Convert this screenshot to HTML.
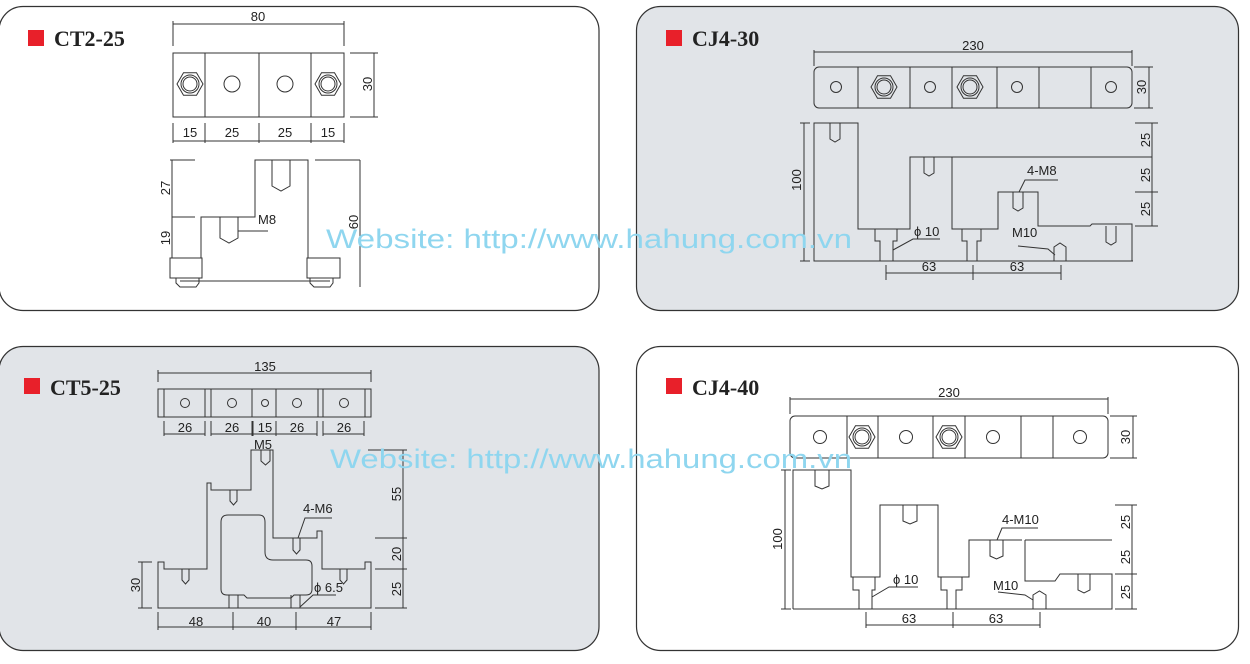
<!DOCTYPE html>
<html><head><meta charset="utf-8"><style>
html,body{margin:0;padding:0;background:#fff;width:1250px;height:664px;overflow:hidden}
svg{display:block}
.d{fill:none;stroke:#333;stroke-width:1}
.t{font-family:"Liberation Sans",sans-serif;font-size:13px;fill:#222}
.h{font-family:"Liberation Serif",serif;font-weight:bold;font-size:22px;fill:#222}
.w{font-family:"Liberation Sans",sans-serif;font-size:27px;fill:#8fd6ef}
</style></head><body>
<svg width="1250" height="664" viewBox="0 0 1250 664" xmlns="http://www.w3.org/2000/svg">
<defs>
<g id="hx"><polygon class="d" points="-13,0 -6.5,-11.3 6.5,-11.3 13,0 6.5,11.3 -6.5,11.3"/><circle class="d" r="9"/><circle class="d" r="7"/></g>
</defs>
<rect x="-1" y="6.5" width="600" height="304" rx="24" fill="#fff" stroke="#333" stroke-width="1.2"/>
<rect x="636.5" y="6.5" width="602" height="304" rx="24" fill="#e1e4e8" stroke="#333" stroke-width="1.2"/>
<rect x="-1" y="346.5" width="600" height="304" rx="24" fill="#e1e4e8" stroke="#333" stroke-width="1.2"/>
<rect x="636.5" y="346.5" width="602" height="304" rx="24" fill="#fff" stroke="#333" stroke-width="1.2"/>
<rect x="28" y="30" width="16" height="16" fill="#e8202a"/><text class="h" x="54" y="46">CT2-25</text>
<rect x="666" y="30" width="16" height="16" fill="#e8202a"/><text class="h" x="692" y="46">CJ4-30</text>
<rect x="24" y="378" width="16" height="16" fill="#e8202a"/><text class="h" x="50" y="395">CT5-25</text>
<rect x="666" y="378" width="16" height="16" fill="#e8202a"/><text class="h" x="692" y="395">CJ4-40</text>

<g>
<path class="d" d="M173,24H344M173,21V46M344,21V46"/>
<text class="t" x="258" y="21" text-anchor="middle">80</text>
<rect class="d" x="173" y="53" width="171" height="64"/>
<path class="d" d="M205,53V117M259,53V117M311,53V117"/>
<use href="#hx" x="190" y="84"/><use href="#hx" x="328" y="84"/>
<circle class="d" cx="232" cy="84" r="8"/><circle class="d" cx="285" cy="84" r="8"/>
<path class="d" d="M350,53H378M350,117H378M374,53V117"/>
<text class="t" transform="translate(372,84) rotate(-90)" text-anchor="middle">30</text>
<path class="d" d="M173,141H344M173,123V143M205,123V143M259,123V143M311,123V143M344,123V143"/>
<text class="t" x="190" y="137" text-anchor="middle">15</text><text class="t" x="232" y="137" text-anchor="middle">25</text>
<text class="t" x="285" y="137" text-anchor="middle">25</text><text class="t" x="328" y="137" text-anchor="middle">15</text>
<path class="d" d="M170,160H195M315,160H360M172,217H195"/>
<path class="d" d="M201,258V217H255V160H308V258"/>
<path class="d" d="M272,160V186L281,191L290,186V160M220,217V238L229,243L238,238V217"/>
<path class="d" d="M238,231H268"/><text class="t" x="258" y="224">M8</text>
<path class="d" d="M170,258H202V278H170ZM307,258H340V278H307Z"/>
<path class="d" d="M176,278V283L180,287H196L199,283V278M310,278V283L314,287H330L333,283V278M180,281H330"/>
<path class="d" d="M172,160V258"/>
<text class="t" transform="translate(170,188) rotate(-90)" text-anchor="middle">27</text>
<text class="t" transform="translate(170,238) rotate(-90)" text-anchor="middle">19</text>
<path class="d" d="M360,160V287"/>
<text class="t" transform="translate(358,222) rotate(-90)" text-anchor="middle">60</text>
</g>

<g>
<path class="d" d="M814,52H1132M814,50V66M1132,50V66"/>
<text class="t" x="973" y="50" text-anchor="middle">230</text>
<rect class="d" x="814" y="67" width="318" height="41" rx="5"/>
<path class="d" d="M858,67V108M910,67V108M952,67V108M997,67V108M1039,67V108M1091,67V108"/>
<circle class="d" cx="836" cy="87" r="5.5"/><circle class="d" cx="930" cy="87" r="5.5"/><circle class="d" cx="1017" cy="87" r="5.5"/><circle class="d" cx="1111" cy="87" r="5.5"/>
<use href="#hx" x="884" y="87"/><use href="#hx" x="970" y="87"/>
<path class="d" d="M1134,67H1153M1134,108H1153M1149,67V108"/>
<text class="t" transform="translate(1146,87) rotate(-90)" text-anchor="middle">30</text>
<path class="d" d="M814,261V123H858V229H910V157H952V229H998V192H1038V226H1090L1092,224H1132V261ZM814,261H1133"/>
<path class="d" d="M952,157H1152M1135,123H1158M1135,192H1158M1135,226H1158M1152,123V226"/>
<path class="d" d="M830,123V139L835,142L840,139V123M924,157V173L929,176L934,173V157M1013,192V208L1018,211L1023,208V192M1106,226V242L1111,245L1116,242V226"/>
<path class="d" d="M875,229V241H880V261M897,229V241H893V261M962,229V241H967V261M981,229V241H977V261"/>
<path class="d" d="M1054,261V247L1060,243L1066,247V261"/>
<path class="d" d="M804,123V261M800,123H810M800,261H810"/>
<text class="t" transform="translate(801,180) rotate(-90)" text-anchor="middle">100</text>
<text class="t" transform="translate(1150,140) rotate(-90)" text-anchor="middle">25</text>
<text class="t" transform="translate(1150,175) rotate(-90)" text-anchor="middle">25</text>
<text class="t" transform="translate(1150,209) rotate(-90)" text-anchor="middle">25</text>
<path class="d" d="M886,273H1061M886,265V280M973,265V280M1061,265V280"/>
<text class="t" x="929" y="271" text-anchor="middle">63</text><text class="t" x="1017" y="271" text-anchor="middle">63</text>
<path class="d" d="M893,250L913,239H940"/><text class="t" x="914" y="236">ϕ 10</text>
<path class="d" d="M1019,192L1025,180H1058"/><text class="t" x="1027" y="175">4-M8</text>
<path class="d" d="M1018,246L1048,249L1055,255"/><text class="t" x="1012" y="237">M10</text>
</g>

<g>
<path class="d" d="M158,373H371M158,370V382M371,370V382"/>
<text class="t" x="265" y="371" text-anchor="middle">135</text>
<rect class="d" x="158" y="389" width="213" height="28"/>
<path class="d" d="M164,389V417M205,389V417M211,389V417M252,389V417M276,389V417M318,389V417M323,389V417M365,389V417"/>
<circle class="d" cx="185" cy="403" r="4.5"/><circle class="d" cx="232" cy="403" r="4.5"/><circle class="d" cx="265" cy="403" r="3.5"/><circle class="d" cx="297" cy="403" r="4.5"/><circle class="d" cx="344" cy="403" r="4.5"/>
<path class="d" d="M164,434H205M211,434H252M253,434H276M276,434H317M323,434H364M164,421V436M205,421V436M211,421V436M252,421V436M253,421V436M276,421V436M317,421V436M323,421V436M364,421V436"/>
<text class="t" x="185" y="432" text-anchor="middle">26</text><text class="t" x="232" y="432" text-anchor="middle">26</text><text class="t" x="265" y="432" text-anchor="middle">15</text><text class="t" x="297" y="432" text-anchor="middle">26</text><text class="t" x="344" y="432" text-anchor="middle">26</text>
<path class="d" d="M158,608V562H164V569H207V483H211V490H251V450H273V538H317V531H322V569H365V562H371V608Z"/>
<path class="d" d="M221,522Q221,515 228,515H259Q265,515 265,522V552Q265,560 273,560H306Q312,560 312,566V589Q312,595 306,595H294L291,598H247L244,595H227Q221,595 221,589Z"/>
<path class="d" d="M229,595V608M238,595V608M291,595V608M300,595V608"/>
<path class="d" d="M261,450V461L265.5,465L270,461V450M230,490V501L233.5,505L237,501V490M293,538V550L296.5,554L300,550V538M182,569V580L185.5,584L189,580V569M340,569V580L343.5,584L347,580V569"/>
<text class="t" x="263" y="449" text-anchor="middle">M5</text>
<path class="d" d="M298,538L305,518H332"/><text class="t" x="303" y="513">4-M6</text>
<path class="d" d="M300,607L313,595H336"/><text class="t" x="314" y="592">ϕ 6.5</text>
<path class="d" d="M142,562V608M138,562H152M138,608H152"/>
<text class="t" transform="translate(140,585) rotate(-90)" text-anchor="middle">30</text>
<path class="d" d="M403,450V608M368,450H407M375,538H407M375,569H407M375,608H407"/>
<text class="t" transform="translate(401,494) rotate(-90)" text-anchor="middle">55</text>
<text class="t" transform="translate(401,554) rotate(-90)" text-anchor="middle">20</text>
<text class="t" transform="translate(401,589) rotate(-90)" text-anchor="middle">25</text>
<path class="d" d="M158,627H371M158,612V630M233,612V630M296,612V630M371,612V630"/>
<text class="t" x="196" y="626" text-anchor="middle">48</text><text class="t" x="264" y="626" text-anchor="middle">40</text><text class="t" x="334" y="626" text-anchor="middle">47</text>
</g>

<g>
<path class="d" d="M790,399H1108M790,397V414M1108,397V414"/>
<text class="t" x="949" y="397" text-anchor="middle">230</text>
<rect class="d" x="790" y="416" width="318" height="42" rx="5"/>
<path class="d" d="M847,416V458M878,416V458M933,416V458M965,416V458M1021,416V458M1053,416V458"/>
<circle class="d" cx="820" cy="437" r="6.5"/><circle class="d" cx="906" cy="437" r="6.5"/><circle class="d" cx="993" cy="437" r="6.5"/><circle class="d" cx="1080" cy="437" r="6.5"/>
<use href="#hx" x="862" y="437"/><use href="#hx" x="949" y="437"/>
<path class="d" d="M1110,416H1137M1110,458H1137M1133,416V458"/>
<text class="t" transform="translate(1130,437) rotate(-90)" text-anchor="middle">30</text>
<path class="d" d="M793,609V470H851V577H880V505H938V577H969V540H1022M1025,540H1112M1025,540V581H1055L1060,574H1112V609H793"/>
<path class="d" d="M1115,505H1137M1115,574H1137M1115,609H1137M1132,505V609"/>
<path class="d" d="M815,470V486L822,489L829,486V470M903,505V521L910,524L917,521V505M990,540V556L996.5,559L1003,556V540M1078,574V590L1084,593L1090,590V574"/>
<path class="d" d="M853,577V590H859V609M875,577V590H872V609M941,577V590H947V609M962,577V590H956V609"/>
<path class="d" d="M1033,609V595L1039.5,591L1046,595V609"/>
<path class="d" d="M785,470V609M781,470H791M781,609H791"/>
<text class="t" transform="translate(782,539) rotate(-90)" text-anchor="middle">100</text>
<text class="t" transform="translate(1130,522) rotate(-90)" text-anchor="middle">25</text>
<text class="t" transform="translate(1130,557) rotate(-90)" text-anchor="middle">25</text>
<text class="t" transform="translate(1130,592) rotate(-90)" text-anchor="middle">25</text>
<path class="d" d="M866,625H1040M866,612V628M953,612V628M1040,612V628"/>
<text class="t" x="909" y="623" text-anchor="middle">63</text><text class="t" x="996" y="623" text-anchor="middle">63</text>
<path class="d" d="M872,597L889,587H918"/><text class="t" x="893" y="584">ϕ 10</text>
<path class="d" d="M997,540L1002,528H1038"/><text class="t" x="1002" y="524">4-M10</text>
<path class="d" d="M998,592L1025,595L1033,600"/><text class="t" x="993" y="590">M10</text>
</g>

<text class="w" x="326" y="248" textLength="526" lengthAdjust="spacingAndGlyphs">Website: http://www.hahung.com.vn</text>
<text class="w" x="330" y="468" textLength="522" lengthAdjust="spacingAndGlyphs">Website: http://www.hahung.com.vn</text>
</svg>
</body></html>
